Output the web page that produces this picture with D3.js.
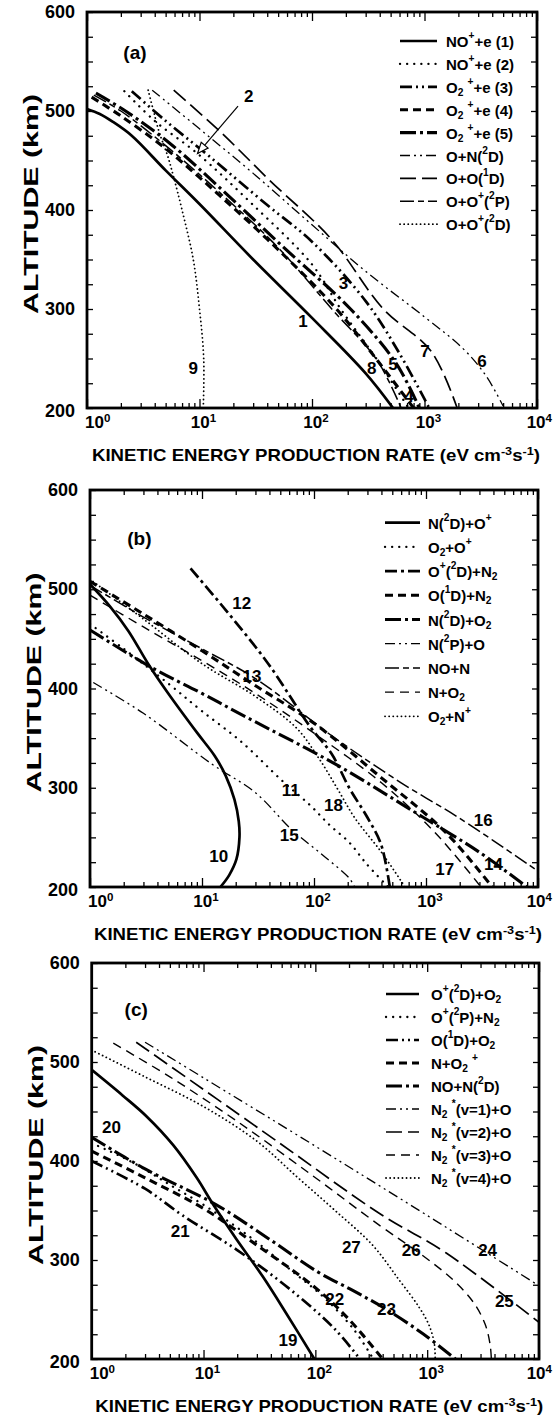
<!DOCTYPE html>
<html>
<head>
<meta charset="utf-8">
<script src="https://cdn.jsdelivr.net/npm/d3@7"></script>
<style>
  body { margin: 0; background: #fff; }
  svg { display: block; }
  text { font-family: "Liberation Sans", Arial, Helvetica, sans-serif; font-weight: bold; fill: #000; }
</style>
</head>
<body>
<svg id="chart" width="553" height="1421"></svg>
<script>
// ---- axis values ----
const decades = [1, 10, 100, 1000, 10000];
const decadeExp = ["0", "1", "2", "3", "4"];
const altLabels = [200, 300, 400, 500, 600];
const xTitle = "KINETIC ENERGY PRODUCTION RATE (eV cm^{-3}s^{-1})";
const yTitle = "ALTITUDE (km)";

// ---- panel (a): [rate, altitude] ----
const a1 = [[1,502],[1.3,497],[1.7,489],[2.5,475],[5,440],[10,406],[30,350],[100,291],[300,235],[525,200]];
const a2 = [[2.15,520],[4,490],[9.6,457],[30,405],[100,345],[180,300],[400,245],[720,200]];
const a3 = [[2.5,520],[5,490],[12,455],[40,405],[100,368],[300,308],[600,255],[1100,200]];
const a4 = [[1.1,514],[2,495],[5,462],[15,415],[50,360],[165,300],[400,245],[800,200]];
const a5 = [[1.2,518],[2.2,500],[5.5,467],[16,420],[55,363],[220,300],[560,245],[900,200]];
const a6 = [[3.8,521],[10,482],[30,437],[100,385],[300,338],[1000,292],[2200,260],[3500,233],[5000,202]];
const a7 = [[5.9,521],[15,480],[42,430],[150,370],[430,300],[1150,257],[1950,200]];
const a8 = [[1.15,516],[2,500],[5,465],[15,418],[50,362],[150,300],[380,248],[620,200]];
const a9 = [[3.5,521],[3.9,500],[4.4,478],[5.2,455],[5.9,433],[7,400],[8.8,350],[10,300],[10.9,250],[10.8,200]];
const namesA = ["NO^{+}+e (1)", "NO^{+}+e (2)", "O_{2} ^{+}+e (3)", "O_{2} ^{+}+e (4)", "O_{2} ^{+}+e (5)",
                "O+N(^{2}D)", "O+O(^{1}D)", "O+O^{+}(^{2}P)", "O+O^{+}(^{2}D)"];
const labelsA = [["1",83,287],["2",27.4,515],["3",190,326],["4",728,212],["5",525,244],
                 ["6",3240,247],["7",1010,257],["8",339,240],["9",8.8,240]];

// ---- panel (b) ----
const b10 = [[1,505],[1.5,483],[2.2,458],[3.3,425],[5,395],[9.1,355],[13,332],[16.3,312],[19.5,288],[21.3,266],[21.6,250],[20.3,228],[17.5,212],[14.6,200]];
const b11 = [[1,465],[2,440],[5,405],[9.8,378],[22.6,346],[52,307],[93,282],[139,262],[206,245],[296,223],[460,200]];
const b12 = [[7.9,521],[16.3,479],[39,425],[93,361],[144,334],[206,300],[300,270],[397,243],[475,200]];
const b13 = [[1,508],[3,475],[10,438],[28,405],[100,365],[400,310],[1500,255],[3900,200]];
const b14 = [[1,459],[3.56,421],[10,395],[25,371],[154,324],[950,270],[3000,235],[8000,200]];
const b15 = [[1.07,406],[3,375],[12.2,324],[30,295],[63,258],[120,232],[206,209],[230,200]];
const b16 = [[1,504],[3,472],[10,440],[30,410],[154,350],[600,305],[1950,270],[10000,216]];
const b17 = [[1,494],[3,462],[10,428],[30,395],[100,355],[400,305],[1200,255],[3100,200]];
const b18 = [[1,510],[3,470],[10,425],[30,392],[70,360],[110,330],[160,300],[230,270],[400,235],[650,200]];
const namesB = ["N(^{2}D)+O^{+}", "O_{2}+O^{+}", "O^{+}(^{2}D)+N_{2}", "O(^{1}D)+N_{2}", "N(^{2}D)+O_{2}",
                "N(^{2}P)+O", "NO+N", "N+O_{2}", "O_{2}+N^{+}"];
const labelsB = [["10",14.1,231],["11",62,297],["12",22.6,486],["13",28,412],["14",4000,223],
                 ["15",60,252],["16",3240,267],["17",1470,218],["18",149,282]];

// ---- panel (c) ----
const c19 = [[1,492],[1.9,466],[3.1,445],[5.36,416],[8.7,383],[12.2,356],[19.7,321],[34,283],[55,246],[98,200]];
const c20 = [[1,418],[2.2,400],[5,376],[12,350],[30,318],[60,290],[120,262],[220,230],[330,200]];
const c21 = [[1,400],[3,372],[6.5,345],[20,310],[60,270],[150,230],[250,200]];
const c22 = [[1,410],[3,383],[10,352],[30,315],[100,272],[200,240],[400,200]];
const c23 = [[1,424],[3,392],[12.9,356],[40,320],[105,288],[218,269],[433,250],[930,225],[1790,200]];
const c24 = [[3,520],[10,484],[100,415],[1000,345],[10000,274]];
const c25 = [[2.5,520],[48,418],[375,347],[1480,307],[10000,237]];
const c26 = [[1.56,519],[5,485],[20,440],[95,385],[375,335],[900,305],[1700,280],[2600,257],[3300,235],[3650,215],[3750,200]];
const c27 = [[1,512],[3,485],[10,455],[30,420],[70,383],[150,350],[325,315],[560,280],[850,252],[1050,233],[1160,215],[1180,200]];
const namesC = ["O^{+}(^{2}D)+O_{2}", "O^{+}(^{2}P)+N_{2}", "O(^{1}D)+O_{2}", "N+O_{2} ^{+}", "NO+N(^{2}D)",
                "N_{2} ^{*}(v=1)+O", "N_{2} ^{*}(v=2)+O", "N_{2} ^{*}(v=3)+O", "N_{2} ^{*}(v=4)+O"];
const labelsC = [["19",57,219],["20",1.5,434],["21",6.2,329],["22",149,260],["23",433,250],
                 ["24",3470,310],["25",4900,258],["26",720,310],["27",210,313]];

// ---- line styles ----
const styles = {
  solid:       { w: 2.7, dash: null },
  dotSparse:   { w: 2.3, dash: "0.1,7", cap: "round" },
  dotDense:    { w: 1.8, dash: "0.1,4", cap: "round" },
  ddotThick:   { w: 2.7, dash: "12,4,2,4,2,4" },
  dashThick:   { w: 3.1, dash: "8,5" },
  ldotThick:   { w: 3.1, dash: "16,4,3,4" },
  ddotThin:    { w: 1.3, dash: "10,4,2,4,2,4" },
  longDash:    { w: 1.7, dash: "16,6" },
  longShort:   { w: 1.5, dash: "14,4,6,4" },
  dash:        { w: 1.4, dash: "9,6" },
  dotThick:    { w: 2.7, dash: "12,4,3,4" }
};

const panels = [
  { id: "a", tag: "(a)", tagPos: [2.67, 559], left: 87, right: 537, top: 12, bottom: 408,
    curves: [a1, a2, a3, a4, a5, a6, a7, a8, a9],
    kinds: ["solid","dotSparse","ddotThick","dashThick","ldotThick","ddotThin","longDash","longShort","dotDense"],
    names: namesA, labels: labelsA,
    legend: { x1: 400, x2: 437, tx: 446, y0: 41, dy: 22.9 } },
  { id: "b", tag: "(b)", tagPos: [2.76, 551], left: 90, right: 538, top: 490, bottom: 887,
    curves: [b10, b11, b12, b13, b14, b15, b16, b17, b18],
    kinds: ["solid","dotSparse","dotThick","dashThick","ldotThick","ddotThin","longShort","dash","dotDense"],
    names: namesB, labels: labelsB,
    legend: { x1: 385, x2: 420, tx: 428, y0: 522.7, dy: 24.2 } },
  { id: "c", tag: "(c)", tagPos: [2.5, 553], left: 91.7, right: 539, top: 963, bottom: 1359,
    curves: [c19, c20, c21, c22, c23, c24, c25, c26, c27],
    kinds: ["solid","dotSparse","ddotThick","dashThick","ldotThick","ddotThin","longDash","dash","dotDense"],
    names: namesC, labels: labelsC,
    legend: { x1: 386, x2: 419, tx: 431, y0: 994, dy: 23 } }
];

const svg = d3.select("#chart");

// text with ^{..} and _{..} parts
function rich(sel, str) {
  str.split(/(\^\{[^}]*\}|_\{[^}]*\})/).forEach(part => {
    if (!part) return;
    if (part.startsWith("^{")) {
      sel.append("tspan").attr("baseline-shift", "super").attr("font-size", "68%").text(part.slice(2, -1));
    } else if (part.startsWith("_{")) {
      sel.append("tspan").attr("baseline-shift", "sub").attr("font-size", "68%").text(part.slice(2, -1));
    } else {
      sel.append("tspan").text(part);
    }
  });
}

function styleLine(sel, kind) {
  const s = styles[kind];
  sel.attr("fill", "none").attr("stroke", "#000").attr("stroke-width", s.w)
     .attr("stroke-dasharray", s.dash).attr("stroke-linecap", s.cap || "butt");
}

const minor = [];
decades.slice(0, 4).forEach(d => { for (let m = 2; m <= 9; m++) minor.push(d * m); });
const altMinor = d3.range(200, 601, 25);

panels.forEach(p => {
  const g = svg.append("g");
  const x = d3.scaleLog().domain([1, 1e4]).range([p.left, p.right]);
  const y = d3.scaleLinear().domain([200, 600]).range([p.bottom, p.top]);

  g.append("clipPath").attr("id", "clip-" + p.id)
    .append("rect").attr("x", p.left).attr("y", p.top)
    .attr("width", p.right - p.left).attr("height", p.bottom - p.top);

  const line = d3.line().x(d => x(d[0])).y(d => y(d[1])).curve(d3.curveCatmullRom.alpha(0.5));

  p.curves.forEach((c, i) => {
    g.append("path").attr("d", line(c)).attr("clip-path", `url(#clip-${p.id})`)
      .call(styleLine, p.kinds[i]);
  });

  // ticks on all four sides, pointing in
  const tickGroups = [
    [d3.axisBottom(x).tickValues(minor).tickSize(-5), `translate(0,${p.bottom})`],
    [d3.axisBottom(x).tickValues(decades).tickSize(-9), `translate(0,${p.bottom})`],
    [d3.axisTop(x).tickValues(minor).tickSize(-5), `translate(0,${p.top})`],
    [d3.axisTop(x).tickValues(decades).tickSize(-9), `translate(0,${p.top})`],
    [d3.axisLeft(y).tickValues(altMinor).tickSize(-6), `translate(${p.left},0)`],
    [d3.axisRight(y).tickValues(altMinor).tickSize(-6), `translate(${p.right},0)`]
  ];
  tickGroups.forEach(([ax, tr]) => {
    const a = g.append("g").attr("transform", tr).call(ax.tickFormat(""));
    a.select(".domain").remove();
    a.selectAll("line").attr("stroke", "#000").attr("stroke-width", 1.3);
  });

  g.append("rect").attr("x", p.left).attr("y", p.top)
    .attr("width", p.right - p.left).attr("height", p.bottom - p.top)
    .attr("fill", "none").attr("stroke", "#000").attr("stroke-width", 2.8);

  // y tick labels
  altLabels.forEach(v => {
    g.append("text").attr("x", p.left - 12).attr("y", y(v) + (v === 200 ? 3 : 0))
      .attr("text-anchor", "end").attr("dominant-baseline", "central")
      .attr("font-size", 18).text(v);
  });

  // x tick labels 10^n
  decades.forEach((v, i) => {
    const t = g.append("text").attr("y", p.bottom + 20).attr("font-size", 17);
    if (i === 0) t.attr("x", x(v) - 2).attr("text-anchor", "start");
    else if (i === decades.length - 1) t.attr("x", 552).attr("text-anchor", "end");
    else t.attr("x", x(v) + 4).attr("text-anchor", "middle");
    rich(t, "10^{" + decadeExp[i] + "}");
  });

  // axis titles
  const xt = g.append("text").attr("x", (p.left + p.right) / 2 + 4).attr("y", p.bottom + 53)
    .attr("text-anchor", "middle").attr("font-size", 17)
    .attr("textLength", 448).attr("lengthAdjust", "spacingAndGlyphs");
  rich(xt, xTitle);
  g.append("text").attr("transform", `translate(${p.left - 56},${(p.top + p.bottom) / 2 - 6}) rotate(-90)`)
    .attr("text-anchor", "middle").attr("dominant-baseline", "central")
    .attr("font-size", 20).attr("textLength", 220).attr("lengthAdjust", "spacingAndGlyphs")
    .text(yTitle);

  // panel tag
  g.append("text").attr("x", x(p.tagPos[0])).attr("y", y(p.tagPos[1]))
    .attr("text-anchor", "middle").attr("dominant-baseline", "central")
    .attr("font-size", 19).text(p.tag);

  // curve numbers
  p.labels.forEach(l => {
    g.append("text").attr("x", x(l[1])).attr("y", y(l[2]))
      .attr("text-anchor", "middle").attr("dominant-baseline", "central")
      .attr("font-size", 17).text(l[0]);
  });

  // legend
  const L = p.legend;
  p.names.forEach((n, i) => {
    const yy = L.y0 + i * L.dy;
    g.append("line").attr("x1", L.x1).attr("x2", L.x2).attr("y1", yy).attr("y2", yy)
      .call(styleLine, p.kinds[i]);
    const t = g.append("text").attr("x", L.tx).attr("y", yy)
      .attr("dominant-baseline", "central").attr("font-size", 15);
    rich(t, n);
  });

  // arrow pointing at curve 2 in panel (a)
  if (p.id === "a") {
    const x0 = x(22), y0 = y(505), x1 = x(9.6), y1 = y(457);
    g.append("line").attr("x1", x0).attr("y1", y0).attr("x2", x1).attr("y2", y1)
      .attr("stroke", "#000").attr("stroke-width", 1.2);
    const ang = Math.atan2(y1 - y0, x1 - x0);
    const hl = 11, hw = 4.5;
    const bx = x1 - hl * Math.cos(ang), by = y1 - hl * Math.sin(ang);
    const pts = [[x1, y1],
      [bx + hw * Math.sin(ang), by - hw * Math.cos(ang)],
      [bx - hw * Math.sin(ang), by + hw * Math.cos(ang)]];
    g.append("polygon").attr("points", pts.map(q => q.join(",")).join(" "))
      .attr("fill", "#fff").attr("stroke", "#000").attr("stroke-width", 1.2);
  }
});
</script>
</body>
</html>
